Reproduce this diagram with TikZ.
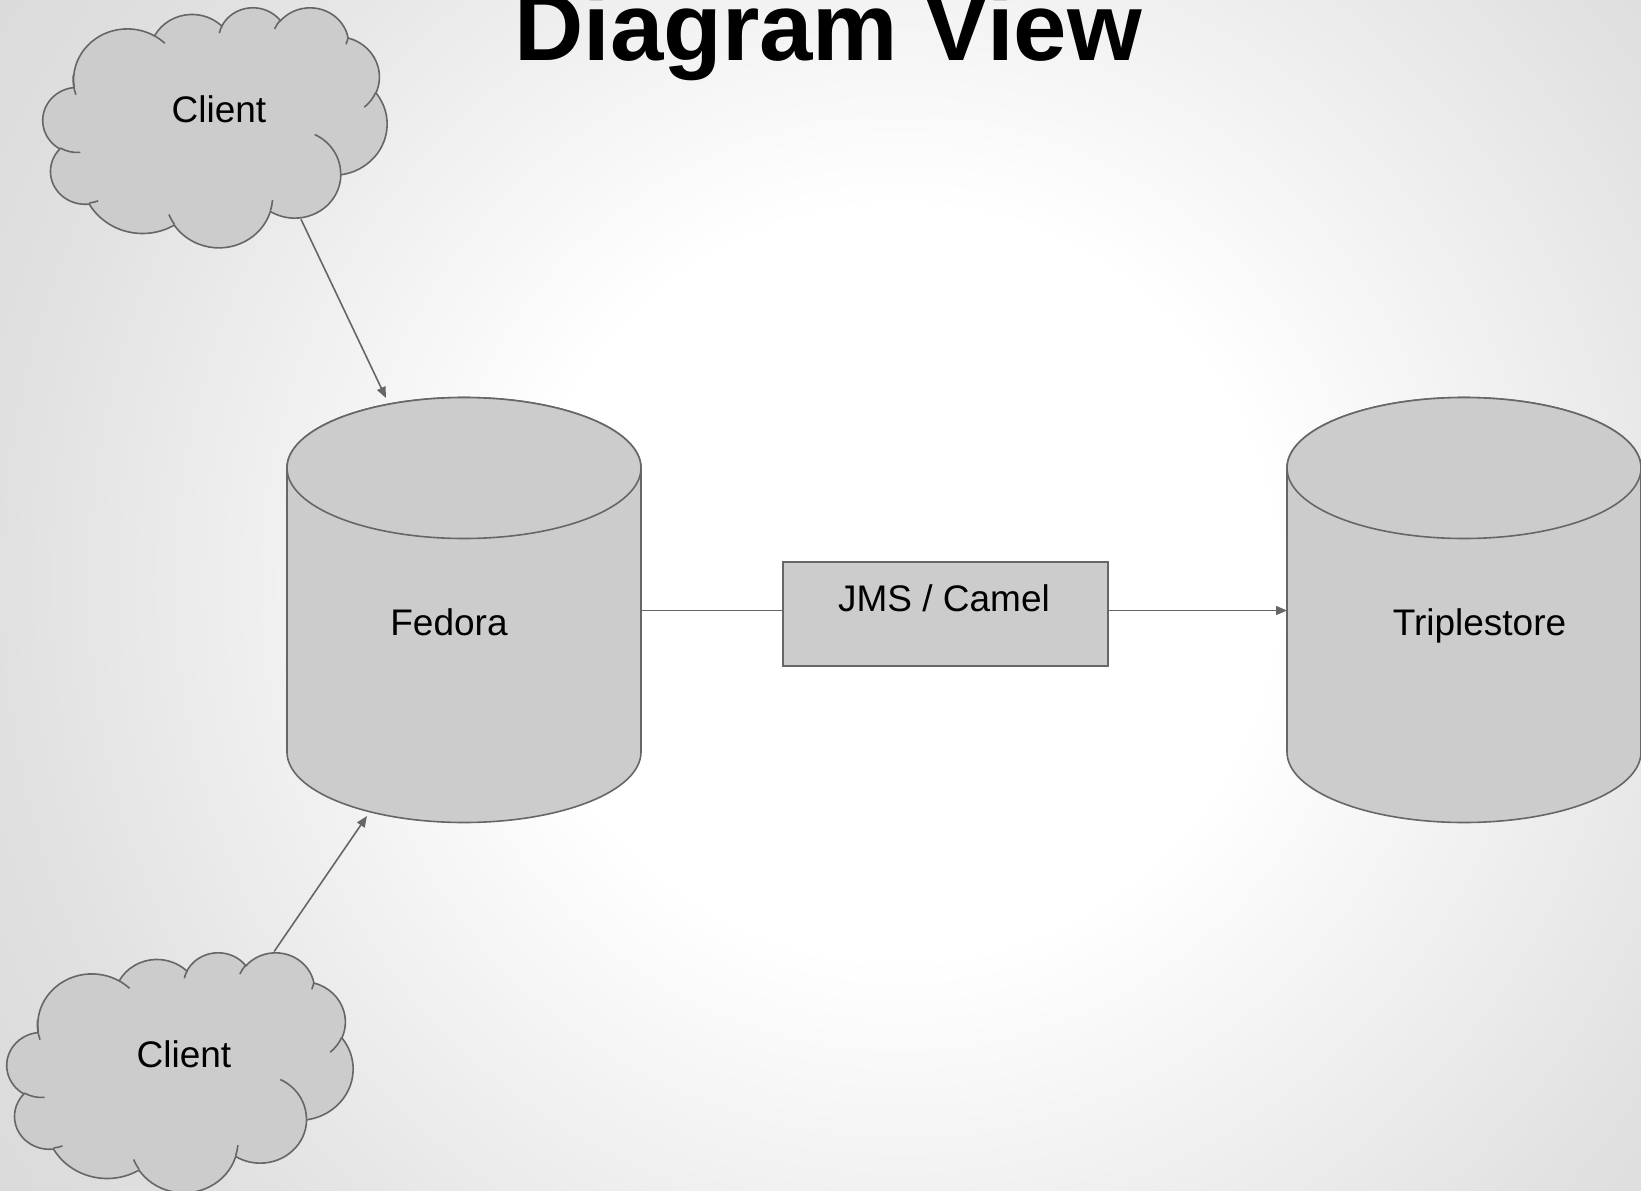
\documentclass[tikz,border=0pt]{standalone}
\usepackage{fontspec}
\setmainfont{Liberation Sans}
\usetikzlibrary{arrows.meta,shapes.geometric}
\definecolor{linegray}{HTML}{666666}
\definecolor{shapefill}{HTML}{CCCCCC}
\pgfdeclareradialshading{bgshade}{\pgfpoint{0bp}{0bp}}{color(0bp)=(white); color(8.5bp)=(white); color(12.5bp)=(black!4); color(20.5bp)=(black!12); color(25bp)=(black!14.5); color(50bp)=(black!14.5)}
% OOXML-style arcTo: radii, start angle, sweep (visual angles, y down)
\newcommand\oarc[4]{arc[x radius=#1, y radius=#2, start angle={tpar(#3,#1,#2)}, delta angle={mod(tpar(#3+#4,#1,#2)-tpar(#3,#1,#2)+720,360)}]}
\newcommand\cloudshape[4]{%
\begin{scope}[shift={(#1,#2)}, xscale=#3/432, yscale=#4/432]
\filldraw[shapeline, fill=shapefill] (39.00,143.70)
  \oarc{67.53}{91.90}{-190.487}{123.781}
  \oarc{53.33}{72.67}{-144.102}{89.945}
  \oarc{43.65}{59.45}{-145.808}{99.723}
  \oarc{48.57}{65.95}{-130.986}{117.242}
  \oarc{53.33}{72.73}{-78.709}{109.027}
  \oarc{67.75}{92.20}{-46.267}{130.269}
  \oarc{57.85}{78.67}{0.625}{114.033}
  \oarc{67.52}{92.15}{22.452}{115.173}
  \oarc{77.20}{105.43}{66.243}{75.711}
  \oarc{43.60}{59.18}{-274.942}{146.736}
  \oarc{43.45}{59.45}{-246.829}{152.519} -- cycle;
\draw[shapeline]
  (46.93,261.77) \oarc{43.45}{59.45}{86.742}{26.430}
  (69.28,348.99) \oarc{43.60}{59.18}{73.610}{11.447}
  (164.78,390.90) \oarc{67.52}{92.15}{137.624}{14.081}
  (288.27,347.51) \oarc{67.52}{92.15}{6.453}{15.998}
  (341.29,229.54) \oarc{57.85}{78.67}{-70.292}{70.917}
  (417.98,153.54) \oarc{53.33}{72.73}{30.318}{27.752}
  (383.24,54.26) \oarc{48.57}{65.95}{13.744}{14.859}
  (290.78,39.52) \oarc{48.57}{65.95}{-149.181}{18.195}
  (221.41,47.20) \oarc{43.65}{59.45}{-163.494}{17.686}
  (140.00,51.92) \oarc{67.53}{91.90}{-66.707}{12.319}
  (41.27,157.89) \oarc{67.53}{91.90}{155.647}{29.426};
\end{scope}}
\begin{document}
\begin{tikzpicture}[x=1pt, y=-1pt,
  declare function={tpar(\pa,\pw,\ph)=atan2(\pw*sin(\pa),\ph*cos(\pa));},
  shapeline/.style={draw=linegray, line width=1.6pt},
  conn/.style={draw=linegray, line width=1.6pt},
  arrowtip/.style={-{Triangle[length=11pt,width=9pt]}},
  lbl/.style={font=\fontsize{37}{44}\selectfont, text=black, anchor=base, inner sep=0pt},
  ghost/.style={inner sep=0pt, outer sep=0pt, draw=none, fill=none},
]
\useasboundingbox (0,0) rectangle (1641,1191);
\begin{scope}
\clip (0,0) rectangle (1641,1191);
\shade[shading=bgshade] (900,583) circle[radius=1100];
\end{scope}

% title
\node[font=\fontsize{96}{100}\selectfont\bfseries, anchor=base, inner sep=0pt] (title) at (828,60) {Diagram View};

% clouds
\cloudshape{43}{7}{344}{240}
\cloudshape{7}{952}{346}{240}
\node[ghost, ellipse, minimum width=315pt, minimum height=220pt] (cloud1) at (215,127) {};
\node[ghost, ellipse, minimum width=395pt, minimum height=274pt] (cloud2) at (180,1072) {};
\node[lbl] (client1) at (219,122) {Client};
\node[lbl] (client2) at (184,1067) {Client};

% Fedora cylinder
\filldraw[shapeline, fill=shapefill] (287,468) -- (287,752)
  arc[start angle=180, end angle=0, x radius=177, y radius=70.5] -- (641,468)
  arc[start angle=0, end angle=-180, x radius=177, y radius=70.5] -- cycle;
\filldraw[shapeline, fill=shapefill] (464,468) ellipse[x radius=177, y radius=70.5];
\node[ghost, rectangle, minimum width=354pt, minimum height=425pt] (fedora) at (464,610.5) {};
\node[lbl] (fedoralbl) at (449,635) {Fedora};

% Triplestore cylinder
\filldraw[shapeline, fill=shapefill] (1287,468) -- (1287,752)
  arc[start angle=180, end angle=0, x radius=177, y radius=70.5] -- (1641,468)
  arc[start angle=0, end angle=-180, x radius=177, y radius=70.5] -- cycle;
\filldraw[shapeline, fill=shapefill] (1464,468) ellipse[x radius=177, y radius=70.5];
\node[ghost, rectangle, minimum width=354pt, minimum height=425pt] (trip) at (1464,610.5) {};
\node[lbl] (triplbl) at (1479.5,635) {Triplestore};

% JMS / Camel box
\node[draw=linegray, line width=1.6pt, fill=shapefill, rectangle, inner sep=0pt, minimum width=325pt, minimum height=104pt] (jms) at (945.5,614) {};
\node[lbl] (jmslbl) at (944,611) {JMS / Camel};

% connectors
\draw[conn, arrowtip] (cloud1.-47.9) -- ([xshift=-78pt]fedora.north);
\draw[conn, arrowtip] (cloud2.52.45) -- ([xshift=-97pt,yshift=7pt]fedora.south);
\draw[conn] (fedora.east) -- (fedora.east -| jms.west);
\draw[conn, arrowtip] (jms.east |- trip.west) -- (trip.west);
\end{tikzpicture}
\end{document}
